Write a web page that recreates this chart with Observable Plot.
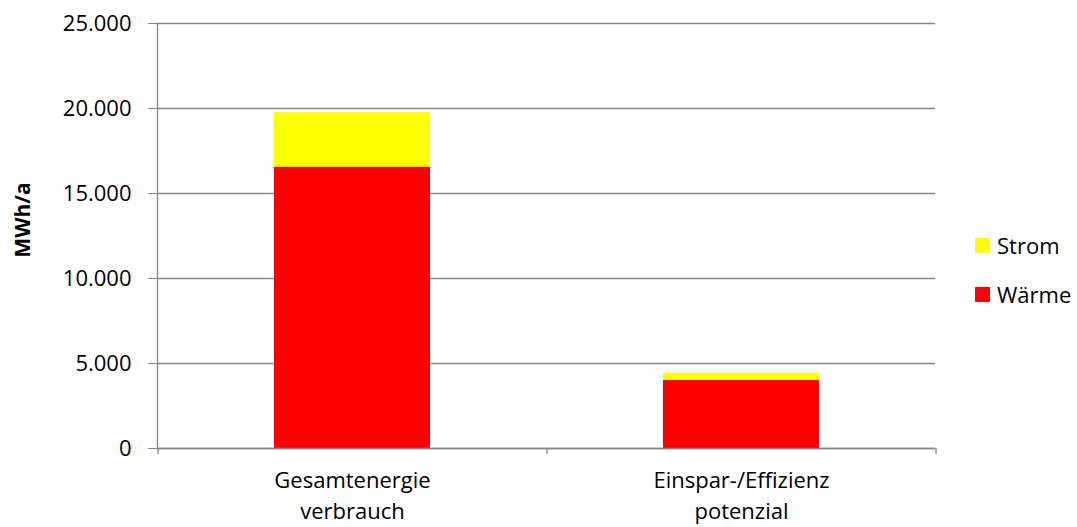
<!DOCTYPE html>
<html>
<head>
<meta charset="utf-8">
<script src="https://cdn.jsdelivr.net/npm/d3@7"></script>
<script src="https://cdn.jsdelivr.net/npm/@observablehq/plot@0.6"></script>
<style>
  body { margin: 0; background: #fff; }
  #wrap { position: relative; width: 1077px; height: 527px; font-family: "Open Sans", sans-serif; overflow: hidden; }
  .legend { position: absolute; left: 975px; font-size: 22px; color: #000; display: flex; align-items: center; }
  .legend span.sw { display: inline-block; width: 15px; height: 15px; margin-right: 7px; }
  .ylabel { position: absolute; left: 22px; top: 220px; font-size: 21px; font-weight: bold; color: #000;
            transform: translate(-50%, -50%) rotate(-90deg); white-space: nowrap; line-height: 1; }
</style>
</head>
<body>
<div id="wrap"></div>
<script>
// ---- data ----
const categories = ["Gesamtenergie\nverbrauch", "Einspar-/Effizienz\npotenzial"];
const series = ["Wärme", "Strom"];
const waerme = [16550, 4000];
const strom = [3200, 410];
const colors = ["#FF0000", "#FFFF00"];
const yTicks = [0, 5000, 10000, 15000, 20000, 25000];
const yLabel = "MWh/a";

const rows = [];
categories.forEach((c, i) => {
  rows.push({cat: c, series: "Wärme", value: waerme[i]});
  rows.push({cat: c, series: "Strom", value: strom[i]});
});

const de = d3.formatLocale({decimal: ",", thousands: ".", grouping: [3], currency: ["", " €"]});
const fmt = de.format(",d");

const W = 1077, H = 527, mL = 157, mR = 142, mT = 23, mB = 79;
const step = (W - mL - mR) / categories.length;
const grid = "#868686";

const chart = Plot.plot({
  width: W, height: H,
  marginLeft: mL, marginRight: mR, marginTop: mT, marginBottom: mB,
  style: {fontFamily: "Open Sans, sans-serif", fontSize: "22px", color: "#000", background: "#fff", overflow: "visible"},
  x: {domain: categories, paddingInner: 0.6, paddingOuter: 0.3, label: null},
  y: {domain: [0, 25000], label: null},
  color: {domain: series, range: colors},
  marks: [
    Plot.ruleY(yTicks, {y: d => d, stroke: grid, strokeWidth: 1.3}),
    Plot.frame({anchor: "left", stroke: grid, strokeWidth: 1.3}),
    Plot.barY(rows, Plot.stackY({x: "cat", y: "value", fill: "series", order: series})),
    Plot.ruleX(categories, {x: d => d, dx: -step / 2, y1: 0, y2: 0, insetBottom: -6, stroke: grid, strokeWidth: 1.3}),
    Plot.ruleX([categories[categories.length - 1]], {x: d => d, dx: step / 2, y1: 0, y2: 0, insetBottom: -6, stroke: grid, strokeWidth: 1.3}),
    Plot.ruleY([0], {stroke: grid, strokeWidth: 1.3}),
    Plot.axisY({ticks: yTicks, tickFormat: fmt, tickSize: 9, tickPadding: 17, stroke: grid, label: null, fill: "#000", fontSize: 22}),
    Plot.axisX({tickSize: 0, tickPadding: 18, label: null, lineHeight: 1.4, fill: "#000", fontSize: 22})
  ]
});

const wrap = document.getElementById("wrap");
wrap.appendChild(chart);

const yl = document.createElement("div");
yl.className = "ylabel";
yl.textContent = yLabel;
wrap.appendChild(yl);

// legend (Strom above Wärme)
[["Strom", colors[1], 238], ["Wärme", colors[0], 287]].forEach(([name, col, top]) => {
  const d = document.createElement("div");
  d.className = "legend";
  d.style.top = (top - 8) + "px";
  d.innerHTML = `<span class="sw" style="background:${col}"></span><span>${name}</span>`;
  wrap.appendChild(d);
});
</script>
</body>
</html>
